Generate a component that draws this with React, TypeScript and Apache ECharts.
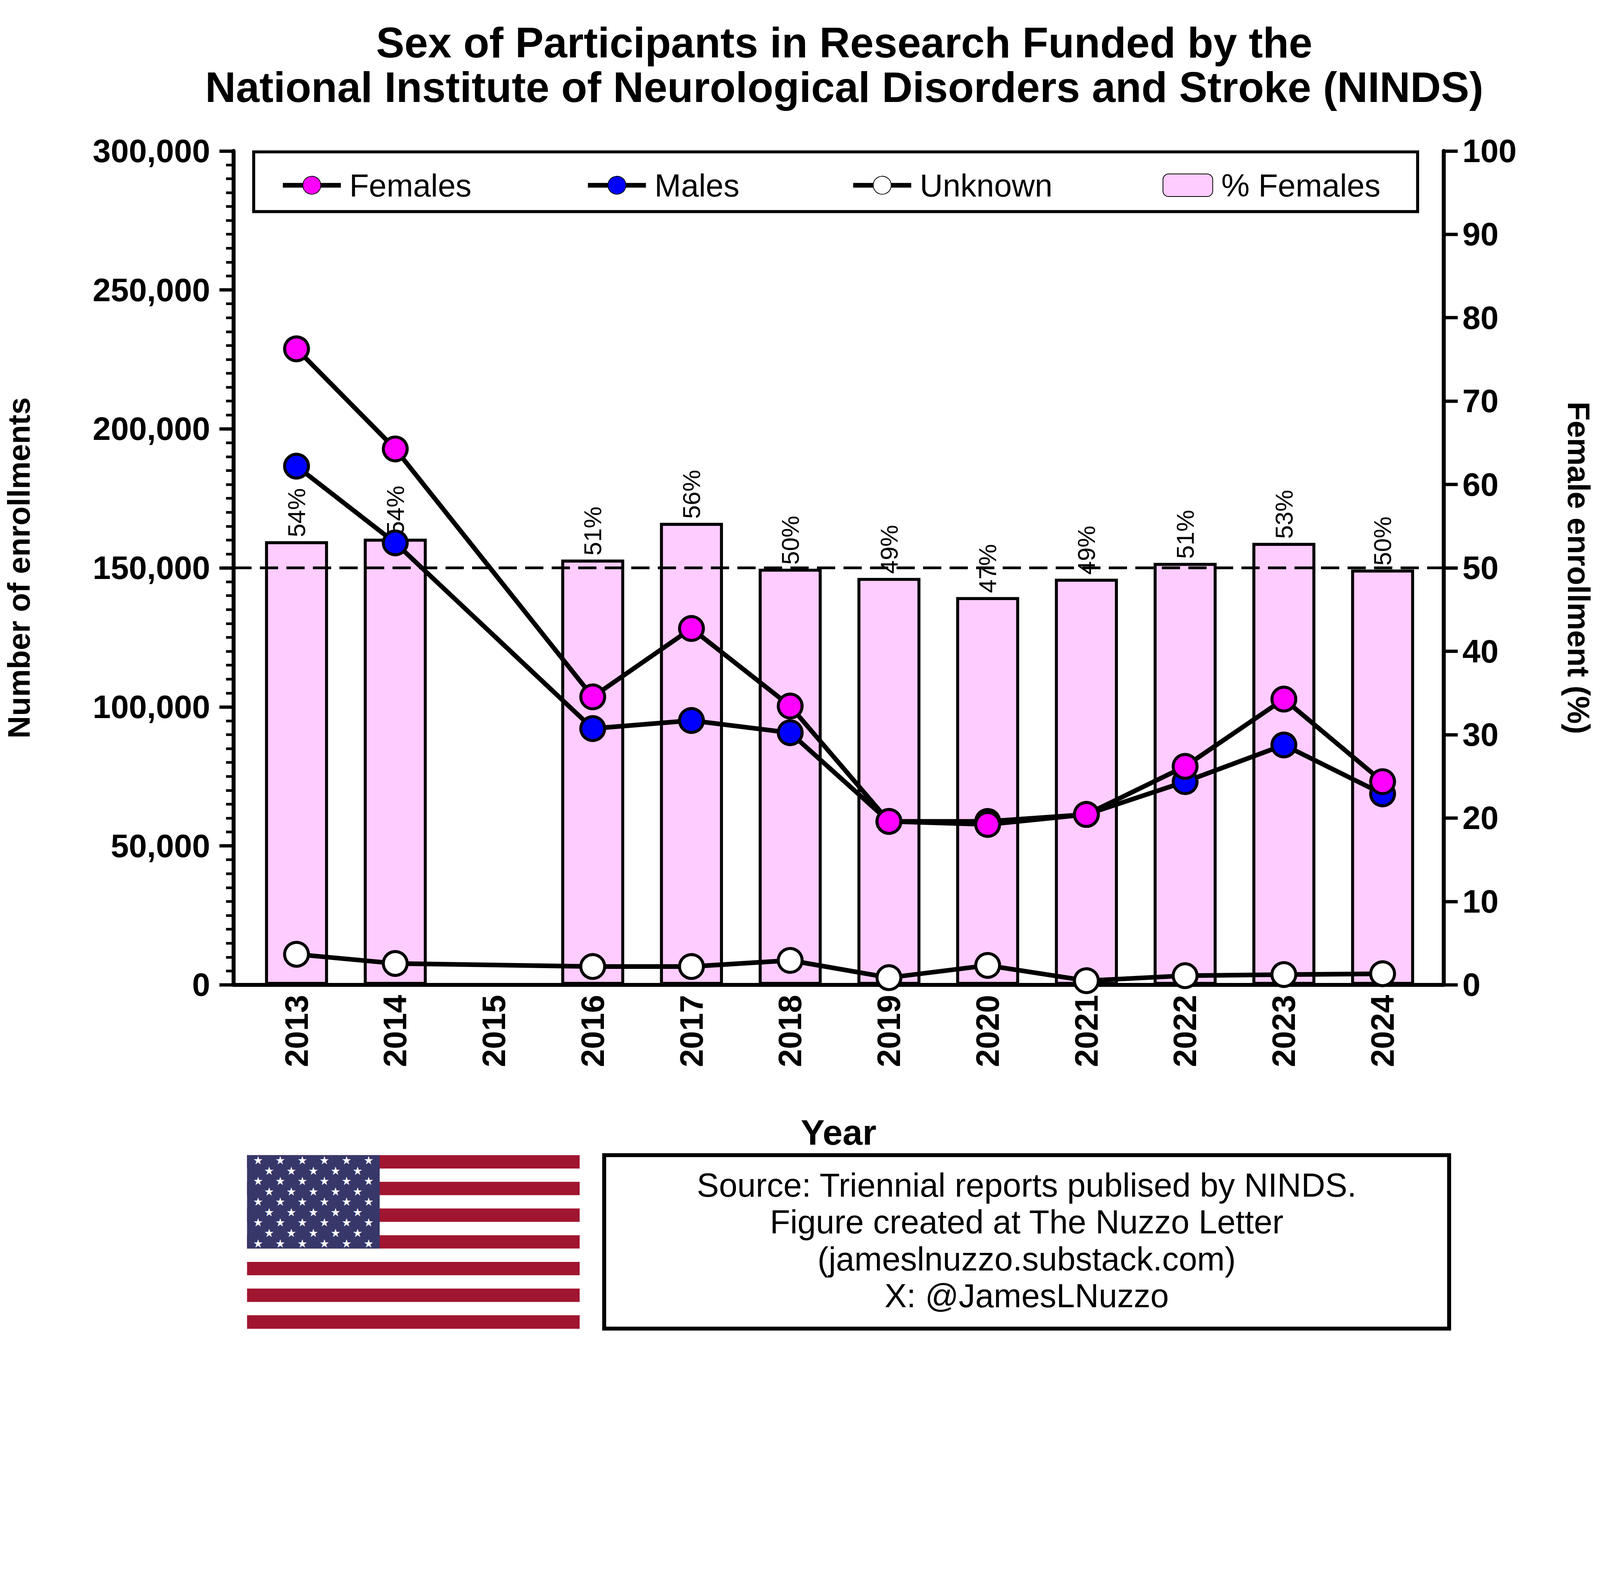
import React, { useEffect, useRef } from 'react';
import * as echarts from 'echarts';

const years = [2013, 2014, 2015, 2016, 2017, 2018, 2019, 2020, 2021, 2022, 2023, 2024];
const females = [228800, 192800, null, 103600, 128200, 100300, 58800, 57700, 61300, 78600, 102800, 73100];
const males = [186600, 159000, null, 92200, 95100, 90700, 58800, 58800, 61300, 73100, 86300, 68700];
const unknown = [11000, 7700, null, 6600, 6600, 8800, 2600, 7000, 1500, 3300, 3700, 4000];
const pctFemales = [53.2, 53.5, null, 51, 55.4, 49.9, 48.8, 46.5, 48.7, 50.6, 53, 49.8];
const pctLabels = ['54%', '54%', '', '51%', '56%', '50%', '49%', '47%', '49%', '51%', '53%', '50%'];
const sourceLines = [
  'Source: Triennial reports publised by NINDS.',
  'Figure created at The Nuzzo Letter',
  '(jameslnuzzo.substack.com)',
  'X: @JamesLNuzzo',
];

const FONT = '"Liberation Sans", Arial, sans-serif';

function flagGraphics(s: number) {
  const x0 = 745 * s, y0 = 3483 * s, w = 1003 * s, h = 523 * s;
  const els: any[] = [];
  const sh = h / 13;
  for (let i = 0; i < 13; i++) {
    els.push({ type: 'rect', shape: { x: x0, y: y0 + i * sh, width: w, height: sh + 0.5 }, style: { fill: i % 2 === 0 ? '#A0152F' : '#FFFFFF' } });
  }
  const cw = 400 * s, ch = sh * 7;
  els.push({ type: 'rect', shape: { x: x0, y: y0, width: cw, height: ch }, style: { fill: '#37376A' } });
  for (let r = 0; r < 9; r++) {
    const n = r % 2 === 0 ? 6 : 5;
    for (let c = 0; c < n; c++) {
      const sx = x0 + (r % 2 === 0 ? cw / 12 + c * cw / 6 : cw / 6 + c * cw / 6);
      const sy = y0 + ch / 18 + r * ch / 9;
      els.push({ type: 'text', x: sx, y: sy, style: { text: '★', fill: '#FFFFFF', fontSize: 34 * s, align: 'center', verticalAlign: 'middle', fontFamily: 'DejaVu Sans' } });
    }
  }
  return els;
}

export default function App() {
  const ref = useRef<HTMLDivElement>(null);
  const W = window.innerWidth || 4825;
  const s = W / 4825;
  const H = 4034 * s;

  useEffect(() => {
    document.body.style.margin = '0';
    if (!ref.current) return;
    const chart = echarts.init(ref.current, undefined, { renderer: 'svg' });
    const data = (arr: (number | null)[]) => years.map((y, i) => [y, arr[i]]);
    const lineSeries = (name: string, arr: (number | null)[], fill: string) => ({
      name, type: 'line', data: data(arr), connectNulls: true,
      symbol: 'circle', symbolSize: 72 * s, z: 5,
      lineStyle: { color: '#000', width: 14 * s },
      itemStyle: { color: fill, borderColor: '#000', borderWidth: 9 * s },
    });
    const legendPos = [[840, 'Females'], [1760, 'Males'], [2560, 'Unknown'], [3500, '% Females']] as const;
    const bold = (size: number) => ({ fontSize: size * s, fontWeight: 'bold', color: '#000', fontFamily: FONT });

    chart.setOption({
      animation: false,
      textStyle: { fontFamily: FONT },
      title: {
        text: 'Sex of Participants in Research Funded by the\nNational Institute of Neurological Disorders and Stroke (NINDS)',
        left: 2540 * s, top: 55 * s, textAlign: 'center',
        textStyle: { ...bold(128), lineHeight: 135 * s },
      },
      legend: legendPos.map(([left, name]) => ({
        data: [name], left: left * s, top: 505 * s,
        itemWidth: (name === '% Females' ? 150 : 175) * s, itemHeight: 68 * s, itemGap: 20 * s,
        lineStyle: { width: 14 * s, color: '#000' },
        textStyle: { fontSize: 96 * s, color: '#000', fontFamily: FONT, padding: [0, 0, 0, 20 * s] },
      })),
      grid: { left: 702 * s, right: W - 4354 * s, top: 455 * s, bottom: H - 2969 * s },
      xAxis: {
        type: 'value', min: 2012.36, max: 2024.62,
        name: 'Year', nameLocation: 'middle', nameGap: 390 * s,
        nameTextStyle: bold(108),
        axisLine: { show: true, lineStyle: { color: '#000', width: 12 * s } },
        axisTick: { show: false },
        splitLine: { show: false },
        axisLabel: {
          customValues: years, rotate: 90, margin: 30 * s,
          ...bold(98),
          formatter: (v: number) => String(Math.round(v)),
        },
      },
      yAxis: [
        {
          type: 'value', min: 0, max: 300000, interval: 50000,
          name: 'Number of enrollments', nameLocation: 'middle', nameGap: 600 * s,
          nameTextStyle: bold(94),
          axisLine: { show: true, lineStyle: { color: '#000', width: 12 * s } },
          axisTick: { show: true, length: 42 * s, lineStyle: { color: '#000', width: 10 * s } },
          minorTick: { show: true, splitNumber: 10, length: 22 * s, lineStyle: { color: '#000', width: 8 * s } },
          splitLine: { show: false },
          axisLabel: { ...bold(98), margin: 70 * s, formatter: (v: number) => v.toLocaleString('en-US') },
        },
        {
          type: 'value', min: 0, max: 100, interval: 10, position: 'right',
          name: 'Female enrollment (%)', nameLocation: 'middle', nameGap: 360 * s, nameRotate: -90,
          nameTextStyle: bold(94),
          axisLine: { show: true, lineStyle: { color: '#000', width: 12 * s } },
          axisTick: { show: true, length: 42 * s, lineStyle: { color: '#000', width: 10 * s } },
          splitLine: { show: false },
          axisLabel: { ...bold(98), margin: 56 * s },
        },
      ],
      series: [
        {
          name: '% Females', type: 'bar', yAxisIndex: 1, data: data(pctFemales), barWidth: 190 * s, z: 1,
          itemStyle: { color: '#FFCCFF', borderColor: '#000', borderWidth: 9 * s },
          label: {
            show: true, position: 'top', rotate: 90, align: 'left', verticalAlign: 'middle', distance: 12 * s,
            fontSize: 74 * s, color: '#000', formatter: (p: any) => pctLabels[p.dataIndex],
          },
          markLine: {
            symbol: 'none', silent: true, label: { show: false },
            lineStyle: { color: '#000', type: [55 * s, 25 * s], width: 8 * s },
            data: [{ yAxis: 50 }],
          },
        },
        lineSeries('Unknown', unknown, '#FFFFFF'),
        lineSeries('Males', males, '#0000FF'),
        lineSeries('Females', females, '#FF00FF'),
      ],
      graphic: [
        { type: 'rect', shape: { x: 765 * s, y: 458 * s, width: 3510 * s, height: 180 * s }, style: { fill: 'none', stroke: '#000', lineWidth: 9 * s }, z: 10 },
        ...flagGraphics(s),
        { type: 'rect', shape: { x: 1822 * s, y: 3483 * s, width: 2548 * s, height: 523 * s }, style: { fill: '#fff', stroke: '#000', lineWidth: 12 * s } },
        {
          type: 'text', x: 3096 * s, y: 3740 * s,
          style: { text: sourceLines.join('\n'), fontSize: 100 * s, lineHeight: 111 * s, align: 'center', verticalAlign: 'middle', fill: '#000', fontFamily: FONT },
        },
      ],
    });
    return () => chart.dispose();
  }, []);

  return <div ref={ref} style={{ width: W, height: H }} />;
}
